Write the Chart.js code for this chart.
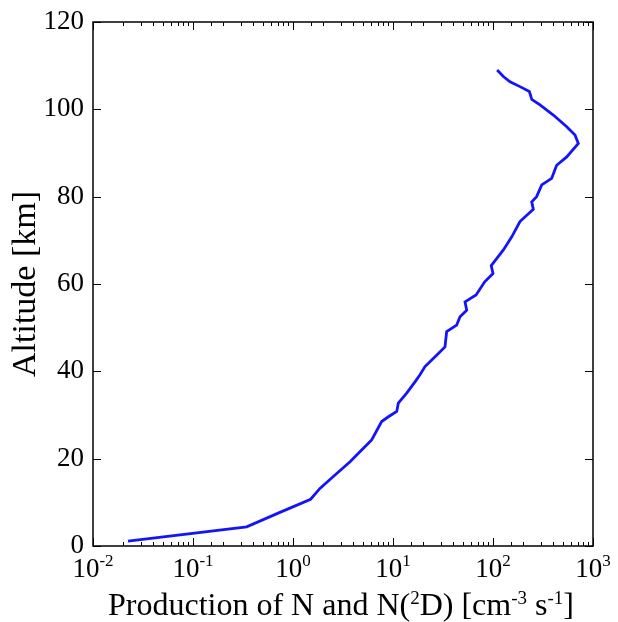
<!DOCTYPE html>
<html>
<head>
<meta charset="utf-8">
<script src="https://cdn.jsdelivr.net/npm/chart.js@4"></script>
<style>
  html, body { margin: 0; padding: 0; background: #fff; }
  #wrap { width: 618px; height: 622px; }
</style>
</head>
<body>
<div id="wrap"><canvas id="prodChart"></canvas></div>
<script>
// Production profile, bottom to top
const altitude = [1.1, 4.4, 7.7, 10.7, 13.2, 15.9, 19.3, 22.0, 24.3, 28.5, 29.6, 30.8, 32.7, 35.0, 37.6,
  39.2, 41.1, 43.7, 45.6, 49.1, 50.6, 52.5, 54.0, 55.9, 57.5, 60.5, 62.4, 64.2, 67.8, 70.8, 74.3,
  77.1, 78.8, 80.0, 82.7, 84.2, 87.2, 89.1, 92.2, 94.1, 96.0, 98.7, 101.0, 102.3, 104.1, 105.2,
  106.3, 107.5, 109.0];
const production = [0.0224, 0.344, 0.74, 1.5, 1.86, 2.53, 3.72, 4.86, 6.12, 7.7, 9.0, 10.9, 11.3, 13.7, 16.6,
  18.6, 20.9, 27.3, 33.1, 34.4, 43.3, 46.8, 54.6, 52.5, 67.7, 82.6, 100, 96, 127, 154, 186,
  253, 244, 273, 307, 386, 433, 546, 713, 661, 546, 401, 295, 244, 231, 186,
  148, 127, 110];
const yTicks = [0, 20, 40, 60, 80, 100, 120];
const xDecades = [-2, -1, 0, 1, 2, 3];   // exponents of the labelled x ticks

const FONT = "'Liberation Serif', 'Times New Roman', serif";

// draws text pieces, some raised as superscripts
function drawRich(ctx, parts, cx, baseline, size, supSize, rise) {
  const widths = parts.map(p => {
    ctx.font = `${p.sup ? supSize : size}px ${FONT}`;
    return ctx.measureText(p.t).width;
  });
  let x = cx - widths.reduce((a, b) => a + b, 0) / 2;
  parts.forEach((p, i) => {
    ctx.font = `${p.sup ? supSize : size}px ${FONT}`;
    ctx.fillText(p.t, x, p.sup ? baseline - rise : baseline);
    x += widths[i];
  });
}

// inward tick marks, full frame and the x-axis texts (matplotlib style)
const framePlugin = {
  id: 'frame',
  afterDraw(chart) {
    const { ctx, chartArea: a, scales } = chart;
    ctx.save();
    ctx.strokeStyle = '#000';
    ctx.lineWidth = 1;
    scales.x.ticks.forEach(t => {
      const px = Math.round(scales.x.getPixelForValue(t.value)) + 0.5;
      const major = Math.abs(Math.log10(t.value) - Math.round(Math.log10(t.value))) < 1e-6;
      const len = major ? 8 : 4;
      ctx.beginPath();
      ctx.moveTo(px, a.bottom); ctx.lineTo(px, a.bottom - len);
      ctx.moveTo(px, a.top); ctx.lineTo(px, a.top + len);
      ctx.stroke();
    });
    scales.y.ticks.forEach(t => {
      const py = Math.round(scales.y.getPixelForValue(t.value)) + 0.5;
      ctx.beginPath();
      ctx.moveTo(a.left, py); ctx.lineTo(a.left + 8, py);
      ctx.moveTo(a.right, py); ctx.lineTo(a.right - 8, py);
      ctx.stroke();
    });
    ctx.lineWidth = 1.5;
    ctx.strokeRect(a.left, a.top, a.right - a.left, a.bottom - a.top);

    // x tick labels 10^n
    ctx.fillStyle = '#000';
    ctx.textAlign = 'left';
    ctx.textBaseline = 'alphabetic';
    xDecades.forEach(e => {
      const px = scales.x.getPixelForValue(Math.pow(10, e));
      drawRich(ctx, [{ t: '10' }, { t: String(e), sup: true }],
        px, a.bottom + 31, 27, 17, 11);
    });

    // x axis title
    drawRich(ctx, [
      { t: 'Production of N and N(' }, { t: '2', sup: true }, { t: 'D) [cm' },
      { t: '-3', sup: true }, { t: ' s' }, { t: '-1', sup: true }, { t: ']' }
    ], (a.left + a.right) / 2 - 2, a.bottom + 69, 32, 19, 11);
    ctx.restore();
  }
};

new Chart(document.getElementById('prodChart'), {
  type: 'line',
  data: {
    datasets: [{
      data: production.map((p, i) => ({ x: p, y: altitude[i] })),
      borderColor: 'rgb(20, 20, 250)',
      borderWidth: 2.8,
      pointRadius: 0,
      fill: false,
      tension: 0
    }]
  },
  options: {
    responsive: true,
    maintainAspectRatio: false,
    animation: false,
    layout: { padding: { top: 22, right: 25, left: 0, bottom: 0 } },
    plugins: { legend: { display: false }, tooltip: { enabled: false } },
    scales: {
      x: {
        type: 'logarithmic',
        min: 0.01,
        max: 1000,
        afterFit: s => { s.height = 76; s.paddingLeft = 0; s.paddingRight = 0; },
        grid: { display: false },
        border: { display: false },
        ticks: { display: false, autoSkip: false }
      },
      y: {
        min: 0,
        max: 120,
        afterFit: s => { s.width = 93; s.paddingTop = 0; s.paddingBottom = 0; },
        afterBuildTicks: s => { s.ticks = yTicks.map(v => ({ value: v })); },
        grid: { display: false, drawTicks: false },
        border: { display: false },
        ticks: {
          padding: 9,
          color: '#000',
          font: { family: FONT, size: 27 }
        },
        title: {
          display: true,
          text: 'Altitude [km]',
          color: '#000',
          font: { family: FONT, size: 34 },
          padding: { top: 6, bottom: 0 }
        }
      }
    }
  },
  plugins: [framePlugin]
});
</script>
</body>
</html>
